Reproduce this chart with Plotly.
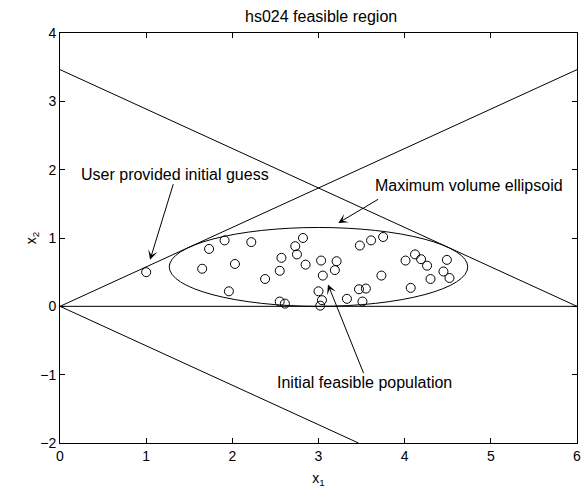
import plotly.graph_objects as go

# Constraint boundaries of hs024 (segment end points)
bound_x = [[0, 6], [0, 6], [0, 6], [0, 3.464]]
bound_y = [[0, 3.464], [3.464, 0], [0, 0], [0, -2]]

# Maximum volume inscribed ellipsoid (centre and semi-axes)
ell_cx, ell_cy = 3.0, 0.577
ell_ax, ell_ay = 1.732, 0.577

# User supplied starting point
guess_x = [1.0]
guess_y = [0.5]

# Initial feasible population
pop_x = [1.65, 1.73, 1.91, 2.03, 1.96, 2.22, 2.38, 2.55, 2.57, 2.73,
         2.82, 2.75, 2.85, 2.55, 2.61, 3.03, 3.21, 3.19, 3.05, 3.00,
         3.04, 3.02, 3.33, 3.48, 3.61, 3.75, 3.47, 3.55, 3.51, 3.73,
         4.01, 4.12, 4.19, 4.26, 4.49, 4.45, 4.52, 4.30, 4.07]
pop_y = [0.55, 0.84, 0.965, 0.62, 0.22, 0.94, 0.40, 0.52, 0.71, 0.88,
         1.00, 0.76, 0.61, 0.07, 0.04, 0.67, 0.66, 0.53, 0.45, 0.22,
         0.09, 0.01, 0.11, 0.89, 0.965, 1.015, 0.25, 0.26, 0.07, 0.45,
         0.67, 0.76, 0.69, 0.595, 0.68, 0.51, 0.415, 0.40, 0.27]

# Callout labels: text, text centre, arrow tail, arrow head
labels = ["User provided initial guess", "Maximum volume ellipsoid",
          "Initial feasible population"]
label_pos = [(1.34, 1.93), (4.75, 1.765), (3.53, -1.115)]
arrow_tail = [(1.32, 1.81), (3.71, 1.58), (3.53, -1.0)]
arrow_head = [(1.045, 0.68), (3.23, 1.22), (3.11, 0.32)]

FONT = "Liberation Sans, Arial, Helvetica, sans-serif"

fig = go.Figure()

for bx, by in zip(bound_x, bound_y):
    fig.add_trace(go.Scatter(x=bx, y=by, mode="lines",
                             line=dict(color="black", width=1),
                             hoverinfo="skip", showlegend=False))

fig.add_shape(type="circle", xref="x", yref="y",
              x0=ell_cx - ell_ax, x1=ell_cx + ell_ax,
              y0=ell_cy - ell_ay, y1=ell_cy + ell_ay,
              line=dict(color="black", width=1))

marker = dict(symbol="circle-open", size=9, color="black",
              line=dict(color="black", width=1))
fig.add_trace(go.Scatter(x=guess_x, y=guess_y, mode="markers",
                         marker=marker, showlegend=False))
fig.add_trace(go.Scatter(x=pop_x, y=pop_y, mode="markers",
                         marker=marker, showlegend=False))

for txt, (tx, ty), (ax, ay), (hx, hy) in zip(labels, label_pos,
                                             arrow_tail, arrow_head):
    fig.add_annotation(x=tx, y=ty, xref="x", yref="y", text=txt,
                       showarrow=False, font=dict(size=16, color="black"))
    fig.add_annotation(x=hx, y=hy, ax=ax, ay=ay, xref="x", yref="y",
                       axref="x", ayref="y", text="", showarrow=True,
                       arrowhead=3, arrowsize=1.6, arrowwidth=1,
                       arrowcolor="black", standoff=0, startstandoff=0)

axis_common = dict(showline=True, linecolor="black", linewidth=1,
                   mirror="ticks", ticks="inside", ticklen=5,
                   tickcolor="black", showgrid=False, zeroline=False,
                   tickfont=dict(size=14, color="black"))

fig.update_xaxes(range=[0, 6], tickvals=[0, 1, 2, 3, 4, 5, 6],
                 title=dict(text="x<sub>1</sub>",
                            font=dict(size=14, color="black"), standoff=10),
                 **axis_common)
fig.update_yaxes(range=[-2, 4], tickvals=[-2, -1, 0, 1, 2, 3, 4],
                 title=dict(text="x<sub>2</sub>",
                            font=dict(size=14, color="black"), standoff=0),
                 **axis_common)

fig.update_layout(
    width=586, height=489,
    margin=dict(l=60, r=5, t=33, b=46),
    paper_bgcolor="white", plot_bgcolor="white",
    font=dict(family=FONT, color="black"),
    title=dict(text="hs024 feasible region", x=0.548, xanchor="center",
               yref="container", y=0.967, yanchor="middle",
               font=dict(size=16, color="black")),
)

fig.write_html("out.html")
